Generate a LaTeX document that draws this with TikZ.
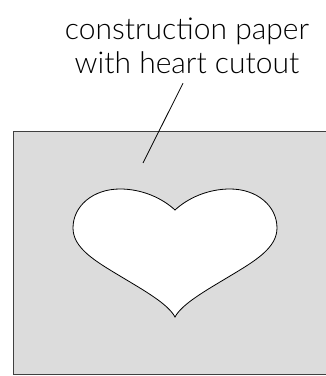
\documentclass[tikz,border=0pt]{standalone}
\usepackage{fontspec}
\setmainfont{Lato}[UprightFont=* Light]
\usepackage{xcolor}
\usepackage{tikz}
\usetikzlibrary{positioning}
\definecolor{papergray}{HTML}{DCDCDC}
\tikzstyle{paper} = [draw=black!75, line width=0.9pt, fill=papergray]
\tikzstyle{cutout} = [draw=black, line width=0.8pt, fill=white]
\tikzstyle{caption} = [align=center, font=\fontsize{30}{34}\selectfont, inner sep=0pt]
\tikzstyle{leader} = [draw=black, line width=0.8pt]

\begin{document}
\begin{tikzpicture}[x=1pt, y=1pt]
    \useasboundingbox (0,0) rectangle (326,376);
    \clip (0,0) rectangle (326,376);
    \draw [paper] (13,2) rectangle (340,245);
    \draw [cutout] (175,166) .. controls (162,178) and (142,187) .. (120,187)
        .. controls (93,187) and (73,170) .. (73,148)
        .. controls (73,128) and (95,115) .. (120,100)
        .. controls (145,85) and (168,72) .. (175,59)
        .. controls (182,72) and (205,85) .. (230,100)
        .. controls (255,115) and (277,128) .. (277,148)
        .. controls (277,170) and (257,187) .. (230,187)
        .. controls (208,187) and (188,178) .. (175,166) -- cycle;
    \node (label) [caption, anchor=north] at (187,358) {construction paper\\with heart cutout};
    \coordinate (spot) at (143,213);
    \draw [leader] ([xshift=-4pt, yshift=-9pt]label.south) -- (spot);
\end{tikzpicture}
\end{document}
